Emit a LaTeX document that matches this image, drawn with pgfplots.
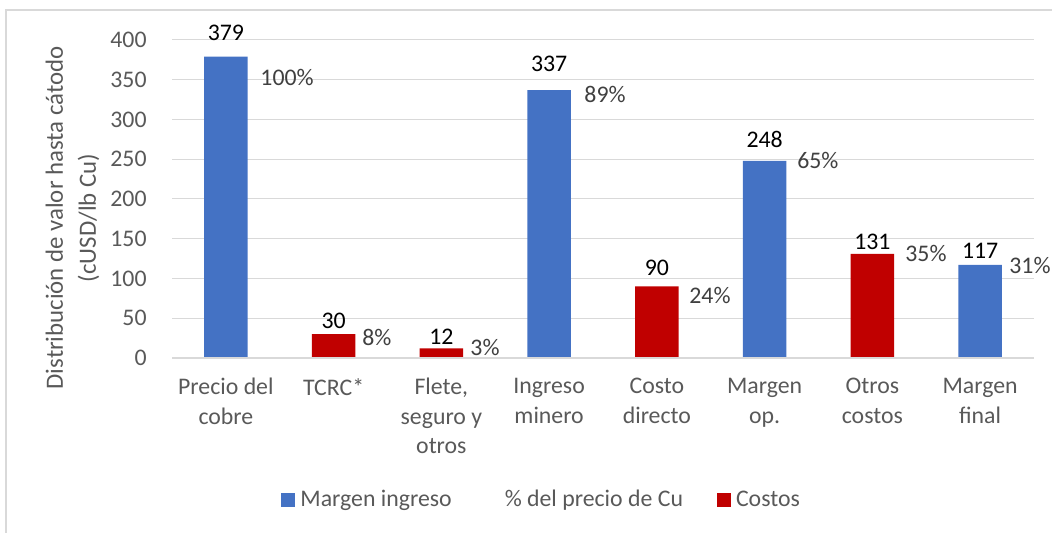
\documentclass[border=0pt]{standalone}
\usepackage{pgfplots}
\usepackage{pgfplotstable}
\pgfplotsset{compat=1.18}
\usepackage{fontspec}
\setmainfont{Carlito}
\definecolor{mblue}{HTML}{4472C4}
\definecolor{mred}{HTML}{C00000}
\definecolor{tgray}{HTML}{595959}
\definecolor{pgray}{HTML}{404040}
\definecolor{lgray}{HTML}{D9D9D9}

\pgfplotstableread{
x y
0 379
3 337
5 248
7 117
}\bluedata
\pgfplotstableread{
x y
1 30
2 12
4 90
6 131
}\reddata
\pgfplotstableread{
x y label
0 398.7 379
1 36.5 30
2 16.4 12
3 359.7 337
4 103 90
5 264 248
6 136 131
7 124.5 117
}\vallabels
\pgfplotstableread{
x y label
0.317 352.8 100\%
1.263 26.4 8\%
2.266 13.8 3\%
3.324 331 89\%
4.298 79 24\%
5.300 248 65\%
6.303 131 35\%
7.268 116 31\%
}\pctlabels

\begin{document}
\begin{tikzpicture}
\begin{axis}[
  at={(86pt,87.5pt)}, anchor=south west,
  scale only axis, width=431pt, height=159pt,
  xmin=-0.5, xmax=7.5, ymin=0, ymax=400,
  clip=false,
  axis line style={draw=none},
  major tick length=0pt,
  ytick={0,50,...,400},
  ymajorgrids, grid style={lgray, line width=0.5pt},
  xtick={0,...,7},
  xticklabels={{Precio del\\cobre}, {TCRC*}, {Flete,\\seguro y\\otros}, {Ingreso\\minero}, {Costo\\directo}, {Margen\\op.}, {Otros\\costos}, {Margen\\final}},
  /pgf/number format/assume math mode=true,
  yticklabel style={font=\fontsize{11.9}{14}\selectfont, text=tgray, anchor=east, inner sep=0pt, xshift=-12.5pt},
  xticklabel style={font=\fontsize{11.9}{14.75}\selectfont, text=tgray, anchor=north, align=center, inner sep=0pt, yshift=-10pt},
  ylabel={Distribución de valor hasta cátodo\\(cUSD/lb Cu)},
  every axis y label/.style={at={(axis description cs:-0.1154,0.4403)}, rotate=90, anchor=center, align=center, inner sep=0pt, font=\fontsize{12.4}{16.5}\selectfont, text=tgray},
  legend columns=-1,
  legend style={at={(0.1265,-0.4465)}, anchor=west, draw=none, fill=none, inner sep=0pt,
    font=\fontsize{11.9}{14}\selectfont, text=tgray, nodes={inner sep=0pt},
    /tikz/every even column/.append style={column sep=17pt},
    /tikz/every odd column/.append style={column sep=2.5pt}},
]
\addlegendimage{legend image code/.code={\fill[mblue, draw=none] (0pt,-3.5pt) rectangle (7pt,3.5pt);}}
\addlegendentry{Margen ingreso}
\addlegendimage{draw=none, fill=none, legend image code/.code={\path[draw=none, fill=none] (0pt,-3.5pt) rectangle (7pt,3.5pt);}}
\addlegendentry{\% del precio de Cu}
\addlegendimage{legend image code/.code={\fill[mred, draw=none] (0pt,-3.5pt) rectangle (7pt,3.5pt);}}
\addlegendentry{Costos}

\addplot[forget plot, ybar, bar width=0.405, bar shift=0pt, fill=mblue, draw=none] table[x=x,y=y] {\bluedata};
\addplot[forget plot, ybar, bar width=0.405, bar shift=0pt, fill=mred, draw=none] table[x=x,y=y] {\reddata};

\addplot[forget plot, draw=none, mark=none, nodes near coords, point meta=explicit symbolic,
  every node near coord/.style={anchor=south, inner sep=0pt, font=\fontsize{11.9}{14}\selectfont, text=black}]
  table[x=x,y=y,meta=label] {\vallabels};
\addplot[forget plot, draw=none, mark=none, nodes near coords, point meta=explicit symbolic,
  every node near coord/.style={anchor=west, inner sep=0pt, font=\fontsize{11.9}{14}\selectfont, text=pgray}]
  table[x=x,y=y,meta=label] {\pctlabels};

\draw[lgray, line width=0.75pt] (rel axis cs:0,0) -- (rel axis cs:1,0);
\end{axis}
\draw[lgray, line width=0.6pt] (3pt,0pt) -- (3pt,261.5pt) -- (526pt,261.5pt);
\pgfresetboundingbox
\useasboundingbox (0,0) rectangle (526pt,266.5pt);
\end{tikzpicture}
\end{document}
